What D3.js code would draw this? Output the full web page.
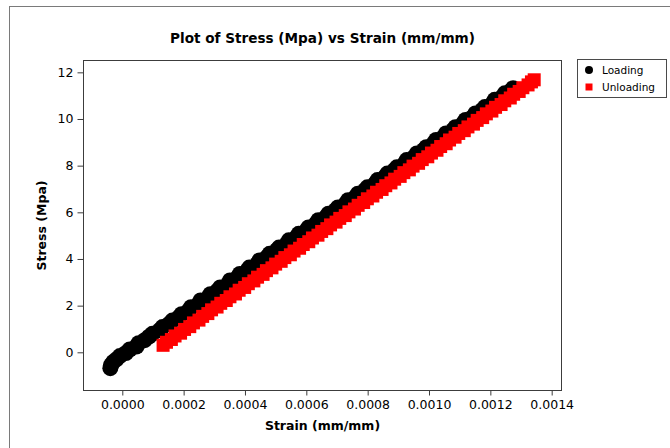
<!DOCTYPE html>
<html>
<head>
<meta charset="utf-8">
<script src="https://cdn.jsdelivr.net/npm/d3@7/dist/d3.min.js"></script>
<style>
  html, body { margin: 0; padding: 0; background: #fff; }
  svg { display: block; }
  text { font-family: "DejaVu Sans", Verdana, sans-serif; fill: #000; }
</style>
</head>
<body>
<svg id="chart" width="670" height="448"></svg>
<script>
// Loading branch: stress (MPa) and strain (mm/mm)
const loadingStress = [
  -0.68, -0.55, -0.42, -0.30, -0.16, -0.03, 0.12, 0.25, 0.39, 0.52, 0.67, 0.79, 0.94, 1.08,
  1.21, 1.36, 1.50, 1.63, 1.79, 1.93, 2.06, 2.22, 2.36, 2.49, 2.64, 2.78, 2.92, 3.08, 3.20,
  3.36, 3.51, 3.63, 3.79, 3.94, 4.06, 4.22, 4.37, 4.49, 4.65, 4.80, 4.92, 5.08, 5.23, 5.35,
  5.51, 5.66, 5.78, 5.94, 6.09, 6.21, 6.37, 6.52, 6.64, 6.80, 6.95, 7.07, 7.23, 7.38, 7.50,
  7.66, 7.81, 7.93, 8.09, 8.24, 8.36, 8.52, 8.67, 8.79, 8.95, 9.10, 9.22, 9.38, 9.53, 9.65,
  9.81, 9.96, 10.08, 10.24, 10.39, 10.51, 10.67, 10.82, 10.94, 11.10, 11.23, 11.32
];
const loadingStrain = [
  -0.000039, -0.000037, -0.000030, -0.000019, -0.000008, 0.000012, 0.000024, 0.000046,
  0.000053, 0.000073, 0.000087, 0.000098, 0.000121, 0.000131, 0.000152, 0.000163, 0.000184,
  0.000193, 0.000216, 0.000224, 0.000248, 0.000255, 0.000281, 0.000287, 0.000310, 0.000319,
  0.000344, 0.000351, 0.000375, 0.000383, 0.000408, 0.000414, 0.000440, 0.000447, 0.000470,
  0.000480, 0.000503, 0.000511, 0.000536, 0.000543, 0.000567, 0.000575, 0.000600, 0.000607,
  0.000631, 0.000639, 0.000663, 0.000672, 0.000695, 0.000703, 0.000728, 0.000736, 0.000759,
  0.000768, 0.000791, 0.000799, 0.000824, 0.000832, 0.000855, 0.000864, 0.000887, 0.000895,
  0.000920, 0.000927, 0.000951, 0.000960, 0.000983, 0.000991, 0.001015, 0.001023, 0.001047,
  0.001055, 0.001079, 0.001086, 0.001111, 0.001119, 0.001142, 0.001151, 0.001174, 0.001182,
  0.001207, 0.001214, 0.001238, 0.001247, 0.001268, 0.001274
];

// Unloading branch: stress (MPa) and strain (mm/mm)
const unloadingStress = [
  0.30, 0.43, 0.55, 0.70, 0.82, 0.98, 1.10, 1.26, 1.38, 1.54, 1.66, 1.82, 1.94, 2.10, 2.22,
  2.38, 2.50, 2.66, 2.78, 2.94, 3.06, 3.22, 3.34, 3.50, 3.62, 3.78, 3.90, 4.06, 4.18, 4.34,
  4.46, 4.62, 4.74, 4.90, 5.02, 5.18, 5.30, 5.46, 5.58, 5.74, 5.86, 6.02, 6.14, 6.30, 6.42,
  6.58, 6.70, 6.86, 6.98, 7.14, 7.26, 7.42, 7.54, 7.70, 7.82, 7.98, 8.10, 8.26, 8.38, 8.54,
  8.66, 8.82, 8.94, 9.10, 9.22, 9.38, 9.50, 9.66, 9.78, 9.94, 10.06, 10.22, 10.34, 10.50,
  10.62, 10.78, 10.90, 11.06, 11.18, 11.34, 11.46, 11.59, 11.68
];
const unloadingStrain = [
  0.000133, 0.000144, 0.000160, 0.000172, 0.000190, 0.000203, 0.000220, 0.000232, 0.000250,
  0.000262, 0.000279, 0.000291, 0.000309, 0.000321, 0.000339, 0.000351, 0.000369, 0.000381,
  0.000399, 0.000411, 0.000429, 0.000441, 0.000459, 0.000470, 0.000488, 0.000500, 0.000518,
  0.000530, 0.000548, 0.000560, 0.000578, 0.000590, 0.000608, 0.000620, 0.000638, 0.000650,
  0.000667, 0.000679, 0.000697, 0.000709, 0.000727, 0.000739, 0.000757, 0.000769, 0.000787,
  0.000799, 0.000817, 0.000829, 0.000847, 0.000859, 0.000876, 0.000888, 0.000906, 0.000918,
  0.000936, 0.000948, 0.000966, 0.000978, 0.000996, 0.001008, 0.001026, 0.001038, 0.001056,
  0.001067, 0.001085, 0.001097, 0.001115, 0.001127, 0.001145, 0.001157, 0.001175, 0.001187,
  0.001205, 0.001217, 0.001235, 0.001247, 0.001265, 0.001276, 0.001294, 0.001306, 0.001323,
  0.001334, 0.001343
];

const xTicks = [0, 0.0002, 0.0004, 0.0006, 0.0008, 0.0010, 0.0012, 0.0014];
const yTicks = [0, 2, 4, 6, 8, 10, 12];
const seriesNames = ["Loading", "Unloading"];
const seriesColors = ["#000000", "#ff0000"];

const titleText = "Plot of Stress (Mpa) vs Strain (mm/mm)";
const xLabel = "Strain (mm/mm)";
const yLabel = "Stress (Mpa)";

const svg = d3.select("#chart");
const plot = { left: 83.5, right: 561.5, top: 60.5, bottom: 390.5 };

const x = d3.scaleLinear().domain([-0.0001265, 0.001432]).range([plot.left, plot.right]);
const y = d3.scaleLinear().domain([-1.637, 12.507]).range([plot.bottom, plot.top]);

// outer frame
svg.append("rect")
  .attr("x", 9.5).attr("y", 6.5).attr("width", 700).attr("height", 500)
  .attr("fill", "none").attr("stroke", "#7a7a7a").attr("stroke-width", 1);

// title
svg.append("text")
  .attr("x", (plot.left + plot.right) / 2).attr("y", 43)
  .attr("text-anchor", "middle")
  .style("font-size", "14.5px").style("font-weight", "bold")
  .attr("textLength", 305).attr("lengthAdjust", "spacingAndGlyphs")
  .text(titleText);

// clip data to the plot area
svg.append("clipPath").attr("id", "plotClip")
  .append("rect")
  .attr("x", plot.left).attr("y", plot.top)
  .attr("width", plot.right - plot.left).attr("height", plot.bottom - plot.top);

const dataLayer = svg.append("g").attr("clip-path", "url(#plotClip)");

const loading = loadingStress.map((s, i) => ({ strain: loadingStrain[i], stress: s }));
const unloading = unloadingStress.map((s, i) => ({ strain: unloadingStrain[i], stress: s }));

dataLayer.append("g").selectAll("circle")
  .data(loading).join("circle")
  .attr("cx", d => x(d.strain)).attr("cy", d => y(d.stress))
  .attr("r", 8).attr("fill", seriesColors[0]);

const sq = 13;
dataLayer.append("g").selectAll("rect")
  .data(unloading).join("rect")
  .attr("x", d => x(d.strain) - sq / 2).attr("y", d => y(d.stress) - sq / 2)
  .attr("width", sq).attr("height", sq).attr("fill", seriesColors[1]);

// plot frame
svg.append("rect")
  .attr("x", plot.left).attr("y", plot.top)
  .attr("width", plot.right - plot.left).attr("height", plot.bottom - plot.top)
  .attr("fill", "none").attr("stroke", "#3c3c3c").attr("stroke-width", 1);

// axes
const xAxis = d3.axisBottom(x).tickValues(xTicks).tickFormat(d3.format(".4f")).tickSize(5).tickPadding(5);
const gx = svg.append("g").attr("transform", `translate(0,${plot.bottom})`).call(xAxis);
gx.select(".domain").remove();

const yAxis = d3.axisLeft(y).tickValues(yTicks).tickFormat(d3.format("d")).tickSize(6).tickPadding(4);
const gy = svg.append("g").attr("transform", `translate(${plot.left},0)`).call(yAxis);
gy.select(".domain").remove();

svg.selectAll(".tick line").attr("stroke", "#3c3c3c");
svg.selectAll(".tick text")
  .style("font-family", '"DejaVu Sans", Verdana, sans-serif')
  .style("font-size", "12.5px").attr("fill", "#000");

// axis labels
svg.append("text")
  .attr("x", (plot.left + plot.right) / 2).attr("y", 430)
  .attr("text-anchor", "middle")
  .style("font-size", "12.5px").style("font-weight", "bold")
  .text(xLabel);

svg.append("text")
  .attr("transform", `translate(46,${(plot.top + plot.bottom) / 2}) rotate(-90)`)
  .attr("text-anchor", "middle")
  .style("font-size", "12.5px").style("font-weight", "bold")
  .text(yLabel);

// legend
const legend = svg.append("g");
legend.append("rect")
  .attr("x", 577.5).attr("y", 59.5).attr("width", 89).attr("height", 38)
  .attr("fill", "#fff").attr("stroke", "#4a4a4a").attr("stroke-width", 1);

legend.append("circle").attr("cx", 589).attr("cy", 70).attr("r", 4).attr("fill", seriesColors[0]);
legend.append("rect").attr("x", 585.5).attr("y", 83.5).attr("width", 7).attr("height", 7).attr("fill", seriesColors[1]);

seriesNames.forEach((name, i) => {
  legend.append("text")
    .attr("x", 602).attr("y", 74 + i * 17)
    .style("font-size", "10.5px")
    .text(name);
});
</script>
</body>
</html>
